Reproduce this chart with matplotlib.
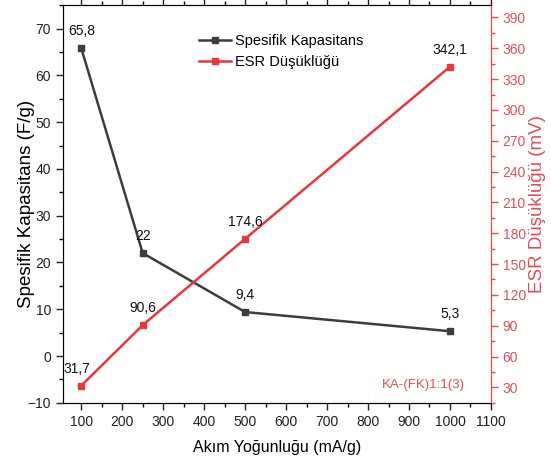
import matplotlib
matplotlib.use("Agg")
import matplotlib.pyplot as plt
from matplotlib.ticker import MultipleLocator

plt.rcParams['font.family'] = ['Liberation Sans', 'DejaVu Sans']

current = [100, 250, 500, 1000]
capacitance = [65.8, 22, 9.4, 5.3]
esr = [31.7, 90.6, 174.6, 342.1]

black = '#3d3d3d'
red = '#e5383f'
red_txt = '#d9505a'


def fmt(v):
    return ('%g' % v).replace('.', ',')


fig = plt.figure(figsize=(5.51, 4.70), dpi=100)
ax = fig.add_axes([0.114, 0.143, 0.777, 0.846])
ax2 = ax.twinx()

l1, = ax.plot(current, capacitance, color=black, lw=1.8, marker='s', ms=5,
              label='Spesifik Kapasitans')
l2, = ax2.plot(current, esr, color=red, lw=1.8, marker='s', ms=5,
               label='ESR Düşüklüğü')

ax.set_xlim(55, 1100)
ax.set_ylim(-10, 75)
ax2.set_ylim(15, 402)

ax.xaxis.set_major_locator(MultipleLocator(100))
ax.xaxis.set_minor_locator(MultipleLocator(50))
ax.yaxis.set_major_locator(MultipleLocator(10))
ax.yaxis.set_minor_locator(MultipleLocator(5))
ax2.set_yticks(range(30, 391, 30))
ax2.yaxis.set_minor_locator(MultipleLocator(15))

ax.tick_params(axis='both', which='major', length=5, width=1, labelsize=10,
               colors='#222222', direction='out')
ax.tick_params(axis='both', which='minor', length=3, width=1, direction='out')
ax.tick_params(axis='x', top=True, which='both')
ax2.tick_params(axis='y', which='major', length=5, width=1, labelsize=10,
                colors=red_txt, direction='out')
ax2.tick_params(axis='y', which='minor', length=3, width=1, colors=red_txt,
                direction='out')
ax2.spines['right'].set_color(red_txt)
for s in ['left', 'top', 'bottom']:
    ax.spines[s].set_color('#333333')

ax.set_xlabel('Akım Yoğunluğu (mA/g)', fontsize=11.5, labelpad=8)
ax.set_ylabel('Spesifik Kapasitans (F/g)', fontsize=13.5)
ax2.set_ylabel('ESR Düşüklüğü (mV)', fontsize=13.5, color=red_txt)
ax.yaxis.set_label_coords(-0.065, 0.5)
ax2.yaxis.set_label_coords(1.088, 0.5)

for x, y in zip(current, capacitance):
    ax.annotate(fmt(y), (x, y), xytext=(0, 7), textcoords='offset points',
                ha='center', va='bottom', fontsize=10, color='#111111')
for x, y in zip(current, esr):
    dx = -3 if x == 100 else 0
    ax2.annotate(fmt(y), (x, y), xytext=(dx, 7), textcoords='offset points',
                 ha='center', va='bottom', fontsize=10, color='#111111')

ax.text(0.939, 0.03, 'KA-(FK)1:1(3)', transform=ax.transAxes, ha='right',
        va='bottom', fontsize=9.5, color=red_txt)

ax.legend([l1, l2], ['Spesifik Kapasitans', 'ESR Düşüklüğü'],
          loc='upper center', bbox_to_anchor=(0.51, 0.96), frameon=False,
          fontsize=10.5, handlelength=2.2, handletextpad=0.3, labelspacing=0.45)

fig.savefig('out.png', dpi=100)
